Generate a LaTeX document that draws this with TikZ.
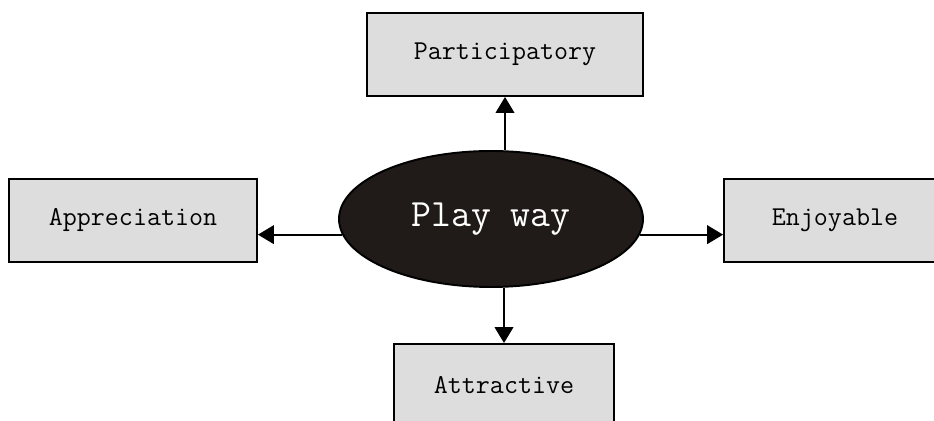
\documentclass[tikz,border=0pt]{standalone}
\usepackage{tikz}
\usetikzlibrary{positioning,arrows.meta,shapes.geometric}
\definecolor{boxgray}{RGB}{221,221,221}
\definecolor{hubblack}{RGB}{32,27,24}

\begin{document}
\begin{tikzpicture}[
      x=0.02cm, y=-0.02cm,
      >={Triangle[length=9pt,width=10.5pt]},
      item/.style={draw=black, line width=1.1pt, fill=boxgray, inner sep=0pt,
                   minimum height=1.66cm, font=\ttfamily\fontsize{15.5}{17}\selectfont},
      hub/.style={ellipse, draw=black, line width=1.1pt, fill=hubblack, text=white,
                  inner sep=0pt, minimum width=6.08cm, minimum height=2.72cm,
                  font=\ttfamily\fontsize{22}{25}\selectfont},
      arr/.style={->, line width=1.2pt, draw=black}
    ]
    \clip (0,0) rectangle (934,421);
    \node[hub] (pw) at (491,219) {Play way};
    \node[item, minimum width=5.52cm] (part) at (505,54.5)  {Participatory};
    \node[item, minimum width=4.96cm] (appr) at (133,220.5) {Appreciation};
    \node[item, minimum width=4.44cm] (enjo) at (835,220.5) {Enjoyable};
    \node[item, minimum width=4.40cm] (attr) at (504,385.5) {Attractive};
    % spokes out of the hub
    \draw[arr] (part.south |- pw.north) -- (part.south);
    \draw[arr] (attr.north |- pw.south) -- (attr.north);
    \draw[arr] (pw.186) -- (appr.east |- pw.186);
    \draw[arr] (pw.354) -- (enjo.west |- pw.354);
  \end{tikzpicture}
\end{document}
